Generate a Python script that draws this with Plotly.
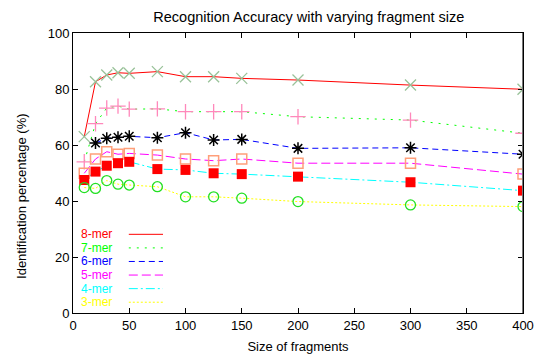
import plotly.graph_objects as go

# Fragment sizes tested
sizes = [10, 20, 30, 40, 50, 75, 100, 125, 150, 200, 300, 400]

# Identification percentage (%) per k-mer length
acc_8mer = [63.0, 82.6, 85.0, 85.8, 85.6, 86.2, 84.4, 84.4, 83.8, 83.2, 81.4, 79.9]
acc_7mer = [54.0, 67.6, 73.2, 73.9, 72.8, 72.9, 71.9, 71.9, 71.9, 70.1, 68.9, 64.2]
sizes_6mer = sizes[1:]
acc_6mer = [60.7, 62.4, 62.8, 63.1, 62.6, 64.4, 61.8, 62.0, 58.8, 59.0, 56.7]
acc_5mer = [49.9, 55.0, 57.6, 56.7, 57.0, 56.4, 55.0, 54.4, 55.0, 53.5, 53.5, 49.6]
acc_4mer = [47.5, 50.5, 52.6, 53.5, 54.0, 51.4, 51.1, 49.9, 49.6, 48.7, 46.7, 43.7]
acc_3mer = [44.8, 44.5, 47.3, 46.0, 45.7, 45.1, 41.5, 41.5, 41.0, 39.8, 38.6, 38.0]

labels = ["8-mer", "7-mer", "6-mer", "5-mer", "4-mer", "3-mer"]
line_colors = ["#ff0000", "#00ff00", "#0000ff", "#ff00ff", "#00ffff", "#ffff00"]
dashes = ["solid", "2px,6px", "6px,4px", "9px,4px", "9px,3px,2px,3px", "2px,2px"]

series = [
    (sizes, acc_8mer, dict(symbol="x-thin", size=11, color="#99c299",
                           line=dict(color="#99c299", width=1.3))),
    (sizes, acc_7mer, dict(symbol="cross-thin", size=11, color="#ff88bb",
                           line=dict(color="#ff88bb", width=1.3))),
    (sizes_6mer, acc_6mer, dict(symbol="asterisk", size=10, color="#000000",
                                line=dict(color="#000000", width=1.5))),
    (sizes, acc_5mer, dict(symbol="square-open", size=10, color="#ff9f7a",
                           line=dict(color="#ff9f7a", width=1.5))),
    (sizes, acc_4mer, dict(symbol="square", size=10, color="#ff0000",
                           line=dict(color="#ff0000", width=0))),
    (sizes, acc_3mer, dict(symbol="circle-open", size=10, color="#22e022",
                           line=dict(color="#22e022", width=1.3))),
]

fig = go.Figure()

# Lines first, then point markers on top
for (xs, ys, _), col, dash, name in zip(series, line_colors, dashes, labels):
    fig.add_trace(go.Scatter(x=xs, y=ys, mode="lines", name=name,
                             line=dict(color=col, width=1, dash=dash),
                             showlegend=False))
for (xs, ys, mk), name in zip(series, labels):
    fig.add_trace(go.Scatter(x=xs, y=ys, mode="markers", name=name,
                             marker=mk, showlegend=False))

# Key in the lower-left corner: coloured label followed by a line sample
key_top = 0.281
key_step = 0.0485
for i, (name, col, dash) in enumerate(zip(labels, line_colors, dashes)):
    yk = key_top - i * key_step
    fig.add_annotation(x=0.015, y=yk, xref="paper", yref="paper",
                       text=name, showarrow=False, xanchor="left",
                       yanchor="middle", borderpad=0,
                       font=dict(color=col, size=12,
                                 family="Liberation Sans, Arial"))
    fig.add_shape(type="line", xref="paper", yref="paper",
                  x0=0.124, x1=0.2, y0=yk, y1=yk,
                  line=dict(color=col, width=1, dash=dash))

# Grey right-hand border
fig.add_shape(type="line", xref="x", yref="paper", x0=400, x1=400,
              y0=0, y1=1, line=dict(color="#777777", width=2))

# Vertical axis title, sitting a little below the plot's mid-height
fig.add_annotation(text="Identification percentage (%)", textangle=-90,
                   xref="paper", yref="paper", x=-0.113, y=0.415,
                   xanchor="center", yanchor="middle", showarrow=False,
                   font=dict(size=13, color="black"))

axis_common = dict(showline=True, linecolor="black", linewidth=1,
                   mirror="ticks", ticks="inside", ticklen=5,
                   tickcolor="black", showgrid=False, zeroline=False,
                   automargin=False,
                   tickfont=dict(size=13, color="black"))

fig.update_layout(
    width=539, height=360,
    margin=dict(l=73, r=16, t=33, b=47),
    paper_bgcolor="white", plot_bgcolor="white",
    font=dict(family="Liberation Sans, Arial", size=13, color="black"),
    title=dict(text="Recognition Accuracy with varying fragment size",
               x=0.573, xanchor="center", y=0.952, yanchor="middle",
               font=dict(size=14.5)),
    xaxis=dict(range=[0, 400], tickvals=list(range(0, 401, 50)),
               title=dict(text="Size of fragments", standoff=10,
                          font=dict(size=13)),
               **axis_common),
    yaxis=dict(range=[0, 100], tickvals=list(range(0, 101, 20)),
               **axis_common),
)

fig.write_html("out.html")
